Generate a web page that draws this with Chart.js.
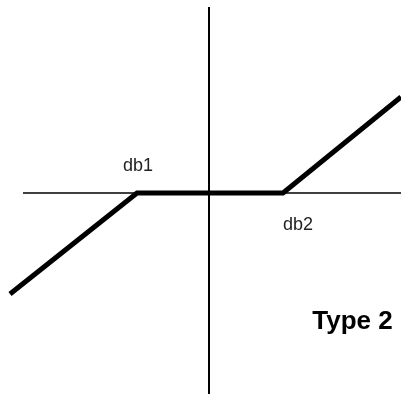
<!DOCTYPE html>
<html>
<head>
<meta charset="utf-8">
<script src="https://cdn.jsdelivr.net/npm/chart.js@4"></script>
<style>
  body { margin: 0; background: #fff; }
  #chart { display: block; }
</style>
</head>
<body>
<canvas id="chart" width="401" height="394"></canvas>
<script>
// response curve with dead band between db1 and db2
const curveX = [-199, -72, 74, 192];
const curveY = [-101, 0, 0, 96];

// axis lines
const yAxisX = [0, 0];
const yAxisY = [186, -201];
const xAxisX = [-186, 192];
const xAxisY = [0, 0];

// text labels (x = centre, y = baseline)
const labelText = ['db1', 'db2', 'Type 2'];
const labelX = [-71, 89, 143.5];
const labelY = [22.3, -37, -136];
const labelBold = [false, false, true];

function toPoints(xs, ys) {
  const pts = [];
  for (let i = 0; i < xs.length; i++) {
    pts.push({ x: xs[i], y: ys[i] });
  }
  return pts;
}

const labelPlugin = {
  id: 'labels',
  afterDatasetsDraw(chart) {
    const ctx = chart.ctx;
    const sx = chart.scales.x;
    const sy = chart.scales.y;
    ctx.save();
    ctx.textAlign = 'center';
    ctx.textBaseline = 'alphabetic';
    for (let i = 0; i < labelText.length; i++) {
      if (labelBold[i]) {
        ctx.font = 'bold 26px "Liberation Sans", Arial, sans-serif';
        ctx.fillStyle = '#000';
      } else {
        ctx.font = '18px "Liberation Sans", Arial, sans-serif';
        ctx.fillStyle = '#222';
      }
      ctx.fillText(labelText[i], sx.getPixelForValue(labelX[i]), sy.getPixelForValue(labelY[i]));
    }
    ctx.restore();
  }
};

const ctx = document.getElementById('chart').getContext('2d');
const myChart = new Chart(ctx, {
  type: 'scatter',
  data: {
    datasets: [
      {
        data: toPoints(yAxisX, yAxisY),
        showLine: true,
        borderColor: '#000',
        borderWidth: 2,
        pointRadius: 0
      },
      {
        data: toPoints(xAxisX, xAxisY),
        showLine: true,
        borderColor: '#000',
        borderWidth: 1.5,
        pointRadius: 0
      },
      {
        data: toPoints(curveX, curveY),
        showLine: true,
        borderColor: '#000',
        borderWidth: 5,
        borderJoinStyle: 'miter',
        pointRadius: 0,
        tension: 0
      }
    ]
  },
  options: {
    responsive: false,
    animation: false,
    layout: { padding: 0 },
    scales: {
      x: { type: 'linear', min: -209, max: 192, display: false },
      y: { type: 'linear', min: -201, max: 193, display: false }
    },
    plugins: {
      legend: { display: false },
      tooltip: { enabled: false }
    }
  },
  plugins: [labelPlugin]
});
</script>
</body>
</html>
